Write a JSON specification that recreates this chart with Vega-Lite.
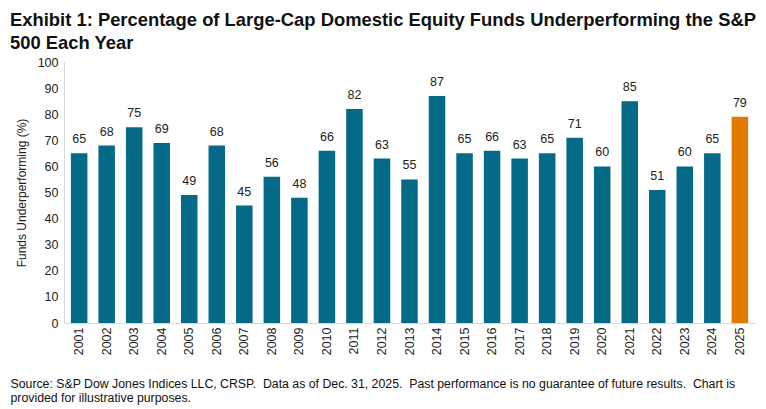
{
  "$schema": "https://vega.github.io/schema/vega-lite/v6.json",
  "width": 691,
  "height": 261,
  "autosize": {"type": "none"},
  "padding": {"left": 64, "top": 62, "right": 11, "bottom": 86},
  "background": "white",
  "config": {
    "view": {"stroke": null},
    "font": "Liberation Sans, Arial"
  },
  "title": {
    "text": ["Exhibit 1: Percentage of Large-Cap Domestic Equity Funds Underperforming the S&P", "500 Each Year"],
    "anchor": "start",
    "frame": "group",
    "dx": -54,
    "offset": 4,
    "fontSize": 18.4,
    "fontWeight": "bold",
    "color": "#111111",
    "lineHeight": 23,
    "font": "Liberation Sans, Arial"
  },
  "data": {
    "values": [
      {"year": "2001", "pct": 65},
      {"year": "2002", "pct": 68},
      {"year": "2003", "pct": 75},
      {"year": "2004", "pct": 69},
      {"year": "2005", "pct": 49},
      {"year": "2006", "pct": 68},
      {"year": "2007", "pct": 45},
      {"year": "2008", "pct": 56},
      {"year": "2009", "pct": 48},
      {"year": "2010", "pct": 66},
      {"year": "2011", "pct": 82},
      {"year": "2012", "pct": 63},
      {"year": "2013", "pct": 55},
      {"year": "2014", "pct": 87},
      {"year": "2015", "pct": 65},
      {"year": "2016", "pct": 66},
      {"year": "2017", "pct": 63},
      {"year": "2018", "pct": 65},
      {"year": "2019", "pct": 71},
      {"year": "2020", "pct": 60},
      {"year": "2021", "pct": 85},
      {"year": "2022", "pct": 51},
      {"year": "2023", "pct": 60},
      {"year": "2024", "pct": 65},
      {"year": "2025", "pct": 79}
    ]
  },
  "encoding": {
    "x": {
      "field": "year",
      "type": "ordinal",
      "scale": {"paddingInner": 0.4, "paddingOuter": 0.25},
      "axis": {
        "title": ["Source: S&P Dow Jones Indices LLC, CRSP.\u00a0 Data as of Dec. 31, 2025.\u00a0 Past performance is no guarantee of future results.\u00a0 Chart is", "provided for illustrative purposes."],
        "titleAnchor": "start",
        "titleAlign": "left",
        "titleX": -54,
        "titleY": 54,
        "titleBaseline": "top",
        "titleFontSize": 12.3,
        "titleFontWeight": "normal",
        "titleColor": "#111111",
        "titleLineHeight": 14,
        "labelAngle": -90,
        "labelAlign": "right",
        "labelBaseline": "middle",
        "labelFontSize": 12.5,
        "labelColor": "#222222",
        "labelPadding": 4,
        "ticks": false,
        "domainColor": "#d9d9d9",
        "domainWidth": 1
      }
    },
    "y": {
      "field": "pct",
      "type": "quantitative",
      "scale": {"domain": [0, 100]},
      "axis": {
        "title": "Funds Underperforming (%)",
        "titleFontSize": 12,
        "titleFontWeight": "normal",
        "titleColor": "#222222",
        "titlePadding": 9,
        "values": [0, 10, 20, 30, 40, 50, 60, 70, 80, 90, 100],
        "labelFontSize": 12.5,
        "labelColor": "#222222",
        "labelPadding": 6,
        "ticks": false,
        "grid": false,
        "domainColor": "#d9d9d9"
      }
    }
  },
  "layer": [
    {
      "mark": {"type": "bar"},
      "encoding": {
        "color": {
          "condition": {"test": "datum.year === '2025'", "value": "#e07a00"},
          "value": "#046a87"
        }
      }
    },
    {
      "mark": {"type": "text", "baseline": "bottom", "dy": -7, "fontSize": 12.5, "color": "#222222"},
      "encoding": {"text": {"field": "pct", "type": "quantitative"}}
    }
  ]
}
